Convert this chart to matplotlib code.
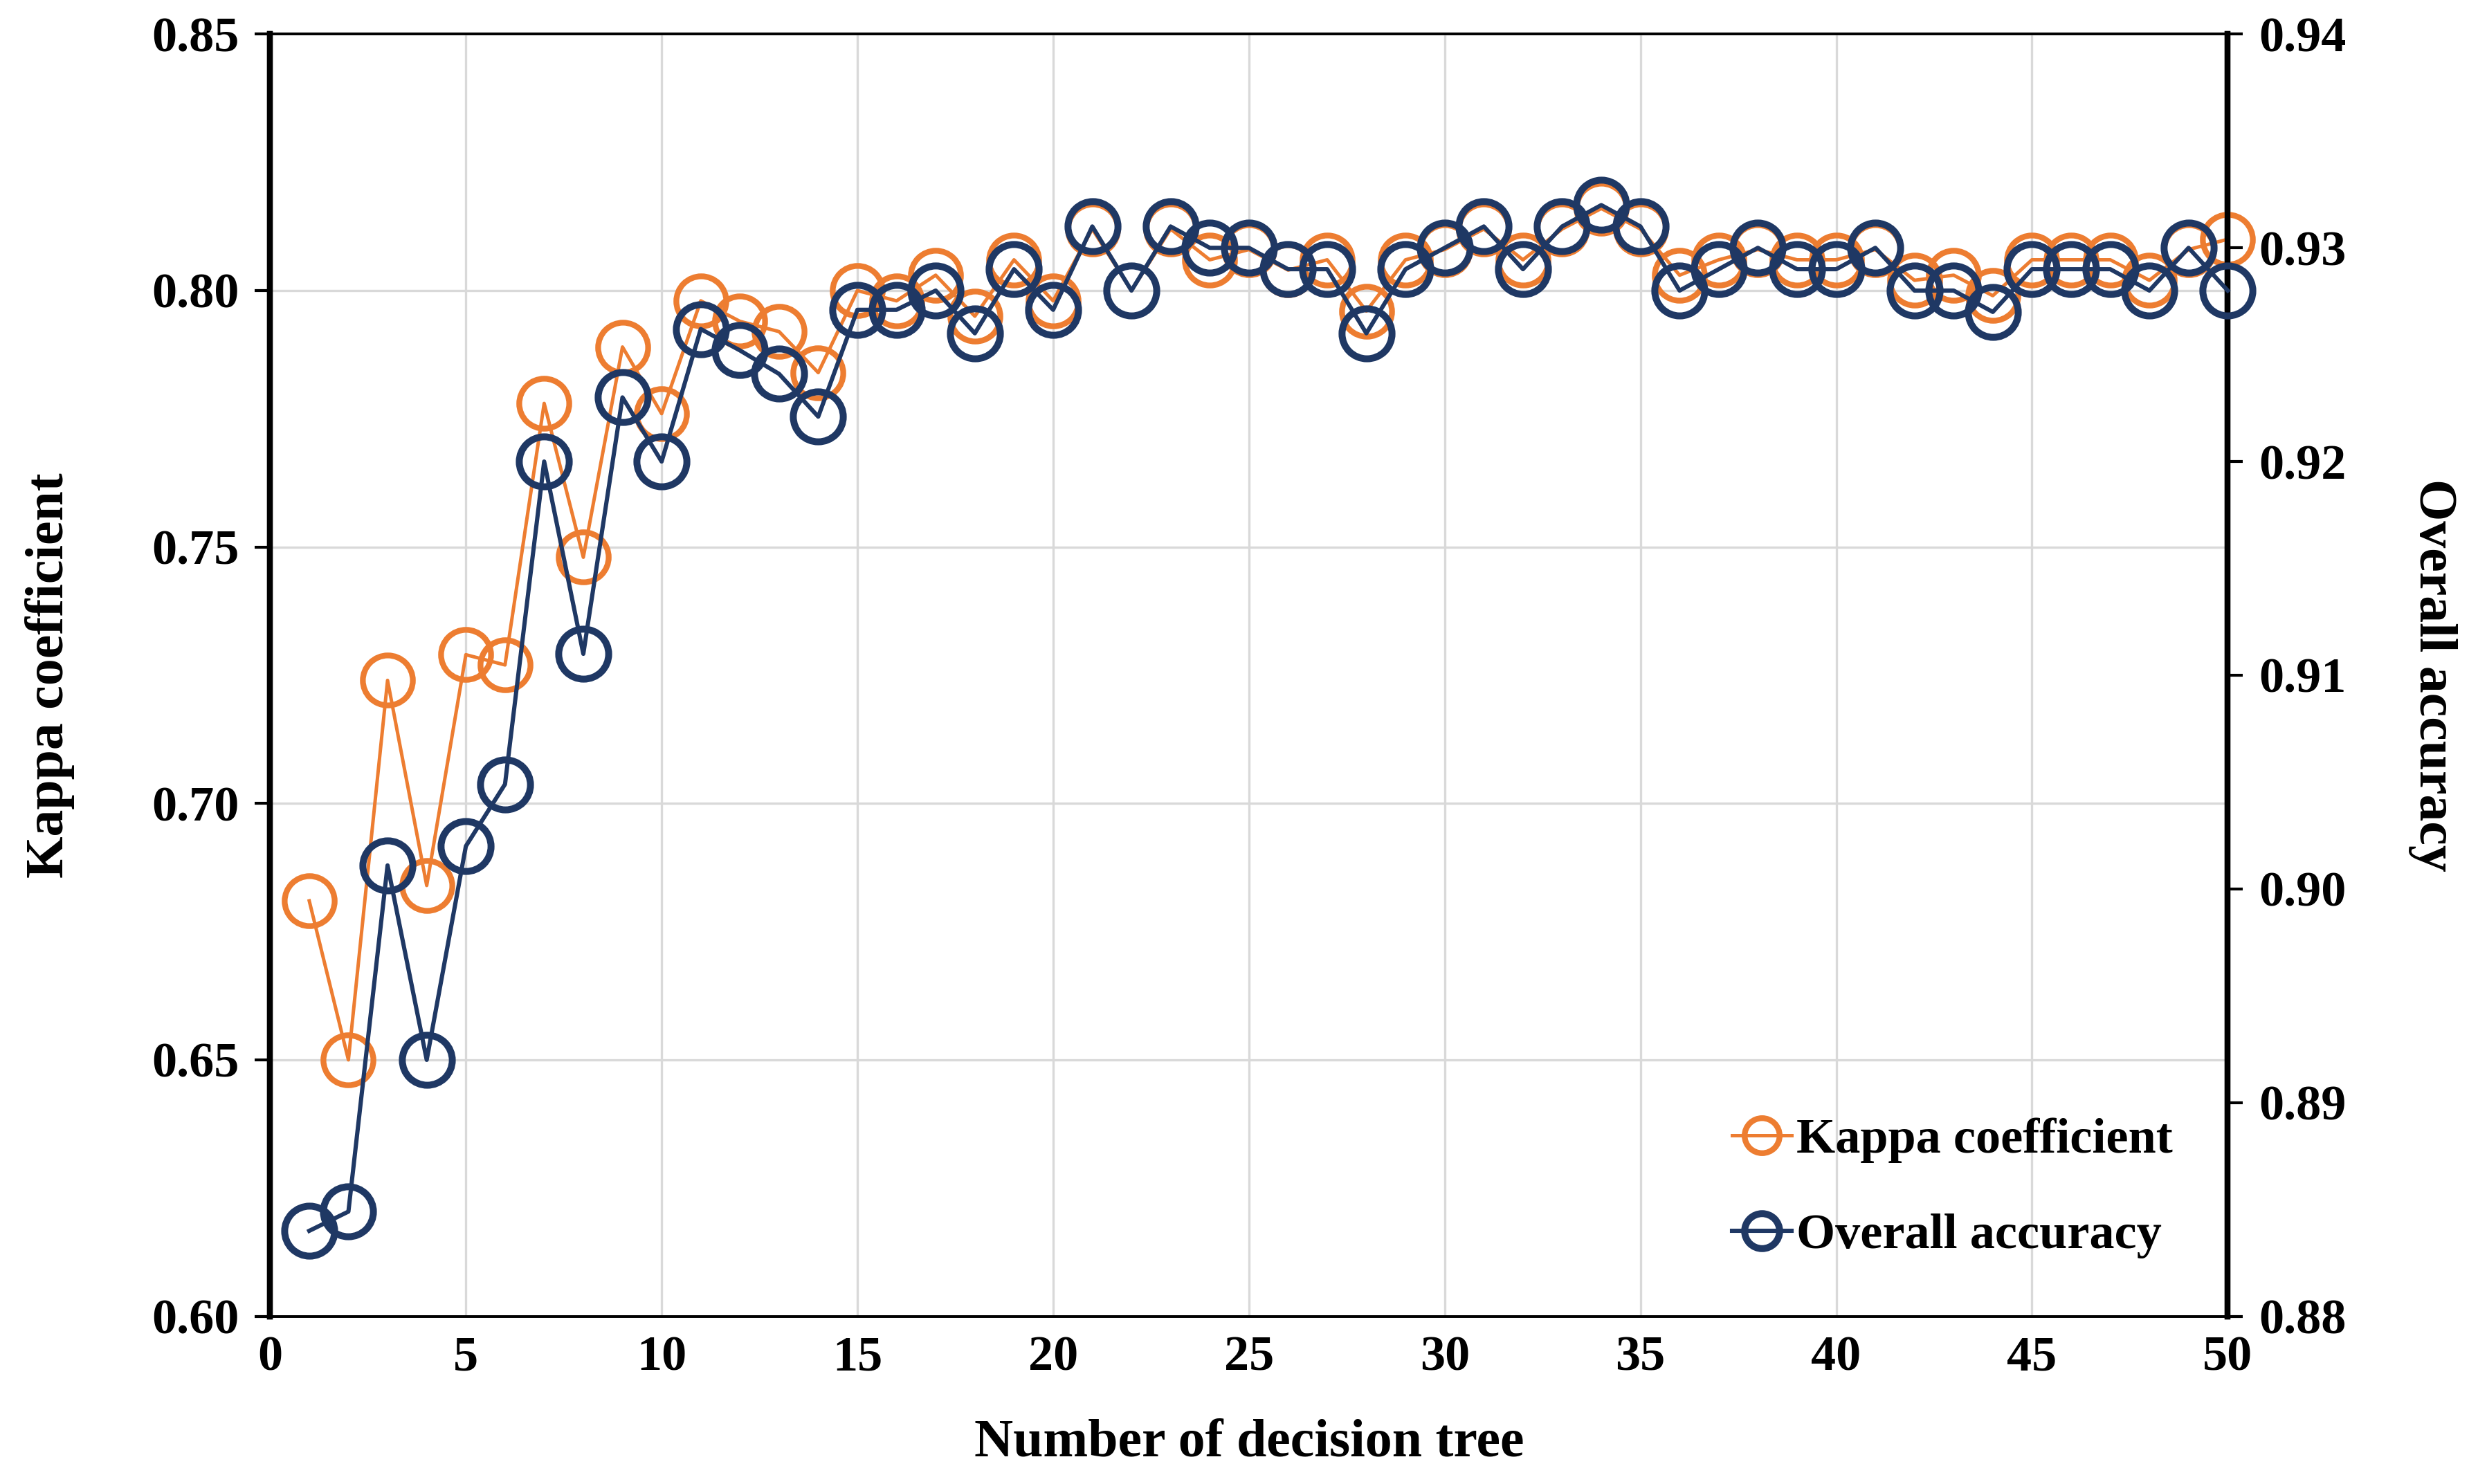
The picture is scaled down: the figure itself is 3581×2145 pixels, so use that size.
import matplotlib
matplotlib.use("Agg")
import matplotlib.pyplot as plt

plt.rcParams['font.family'] = ['Liberation Serif', 'DejaVu Serif']
plt.rcParams['font.weight'] = 'bold'

# Data
trees = list(range(1, 51))
kappa = [0.681, 0.650, 0.724, 0.684, 0.729, 0.727, 0.778, 0.748, 0.789, 0.776,
         0.798, 0.794, 0.792, 0.784, 0.800, 0.798, 0.803, 0.795, 0.806, 0.798,
         0.812, 0.800, 0.812, 0.806, 0.808, 0.804, 0.806, 0.796, 0.806, 0.808,
         0.812, 0.806, 0.812, 0.816, 0.812, 0.803, 0.806, 0.808, 0.806, 0.806,
         0.808, 0.802, 0.803, 0.799, 0.806, 0.806, 0.806, 0.802, 0.808, 0.810]
overall = [0.8840, 0.8849, 0.9011, 0.8920, 0.9020, 0.9049, 0.9200, 0.9110, 0.9230, 0.9200,
           0.9262, 0.9252, 0.9241, 0.9221, 0.9271, 0.9271, 0.9280, 0.9260, 0.9290, 0.9271,
           0.9310, 0.9280, 0.9310, 0.9300, 0.9300, 0.9290, 0.9290, 0.9260, 0.9290, 0.9300,
           0.9310, 0.9290, 0.9310, 0.9320, 0.9310, 0.9280, 0.9290, 0.9300, 0.9290, 0.9290,
           0.9300, 0.9280, 0.9280, 0.9270, 0.9290, 0.9290, 0.9290, 0.9280, 0.9300, 0.9280]

orange = '#ED7D31'
navy = '#1F3864'

fig, ax1 = plt.subplots(figsize=(17.905, 10.725), dpi=200)
fig.subplots_adjust(left=0.109, right=0.899, top=0.977, bottom=0.113)
ax2 = ax1.twinx()

l1, = ax1.plot(trees, kappa, color=orange, lw=1.8, marker='o', ms=26,
               mfc='none', mec=orange, mew=3.0, label='Kappa coefficient',
               zorder=3, clip_on=False)
l2, = ax2.plot(trees, overall, color=navy, lw=2.2, marker='o', ms=26,
               mfc='none', mec=navy, mew=3.6, label='Overall accuracy',
               zorder=4, clip_on=False)

ax1.set_xlim(0, 50)
ax1.set_ylim(0.60, 0.85)
ax2.set_ylim(0.88, 0.94)
ax1.set_xticks(range(0, 51, 5))
ax1.set_yticks([0.60, 0.65, 0.70, 0.75, 0.80, 0.85])
ax2.set_yticks([0.88, 0.89, 0.90, 0.91, 0.92, 0.93, 0.94])
ax1.set_yticklabels(['%.2f' % v for v in ax1.get_yticks()])
ax2.set_yticklabels(['%.2f' % v for v in ax2.get_yticks()])

ax1.grid(True, color='#D9D9D9', lw=1.2)
ax1.set_axisbelow(True)

for ax in (ax1, ax2):
    ax.spines['left'].set_linewidth(3.0)
    ax.spines['right'].set_linewidth(3.0)
    ax.spines['top'].set_linewidth(1.3)
    ax.spines['bottom'].set_linewidth(1.3)
ax1.tick_params(axis='y', direction='out', length=8, width=1.5, labelsize=26, pad=8)
ax2.tick_params(axis='y', direction='out', length=8, width=1.5, labelsize=26, pad=8)
ax1.tick_params(axis='x', length=0, labelsize=26, pad=10)

ax1.set_xlabel('Number of decision tree', fontsize=28, fontweight='bold', labelpad=20)
ax1.set_ylabel('Kappa coefficient', fontsize=28, fontweight='bold', labelpad=40)
ax2.set_ylabel('Overall accuracy', fontsize=28, fontweight='bold', rotation=270, labelpad=58)

leg = ax2.legend(handles=[l1, l2], loc='lower right', frameon=False, fontsize=26,
                 markerscale=0.7, handlelength=1.2, handletextpad=0.1,
                 labelspacing=1.0, bbox_to_anchor=(0.995, 0.01))

fig.savefig('out.png', dpi=200)
